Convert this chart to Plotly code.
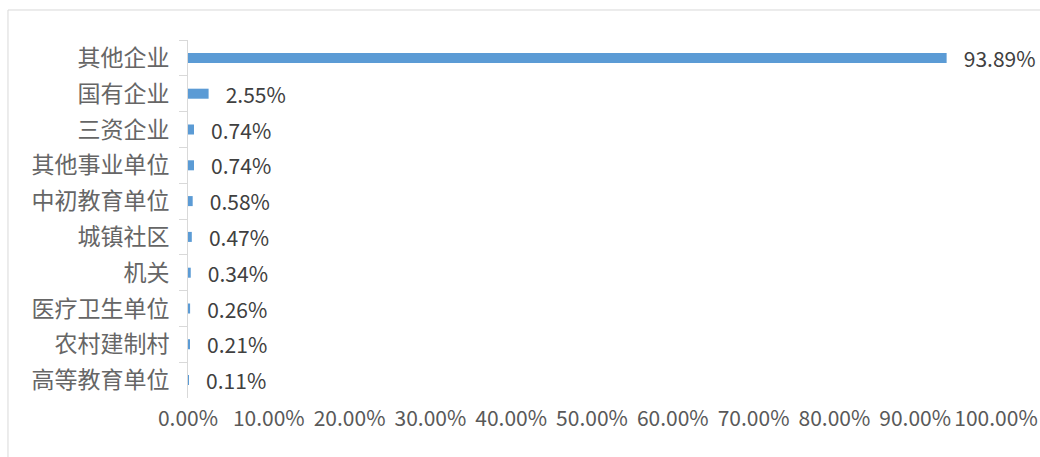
import plotly.graph_objects as go

categories = ["其他企业", "国有企业", "三资企业", "其他事业单位", "中初教育单位",
              "城镇社区", "机关", "医疗卫生单位", "农村建制村", "高等教育单位"]
values = [93.89, 2.55, 0.74, 0.74, 0.58, 0.47, 0.34, 0.26, 0.21, 0.11]
x_ticks = [0, 10, 20, 30, 40, 50, 60, 70, 80, 90, 100]
x_tick_labels = [f"{v:.2f}%" for v in x_ticks]
value_labels = [f"   {v:.2f}%" for v in values]

font_family = "Noto Sans CJK SC, Open Sans, sans-serif"

fig = go.Figure()
fig.add_trace(go.Bar(
    y=categories, x=values, orientation="h",
    marker=dict(color="#5B9BD5", line=dict(width=0)),
    width=0.28,
    text=value_labels, textposition="outside", cliponaxis=False,
    constraintext="none",
    textfont=dict(size=21, color="#404040", family=font_family),
    hoverinfo="skip",
))

fig.update_layout(
    width=1040, height=457,
    margin=dict(l=188, r=44, t=40, b=59),
    paper_bgcolor="white", plot_bgcolor="white",
    showlegend=False,
    font=dict(family=font_family),
    xaxis=dict(range=[0, 100], tickvals=x_ticks, ticktext=x_tick_labels,
               showgrid=False, zeroline=False, showline=False, ticks="",
               automargin=False,
               tickfont=dict(size=21, color="#595959"), ticklabelstandoff=6),
    yaxis=dict(autorange="reversed", type="category", showgrid=False,
               showline=True, linecolor="#d9d9d9", linewidth=1,
               ticks="outside", ticklen=8, tickcolor="#d9d9d9", tickson="boundaries",
               automargin=False,
               tickfont=dict(size=23, color="#666666"), ticklabelstandoff=13),
    shapes=[dict(type="rect", xref="paper", yref="paper",
                 x0=-0.2228, x1=1.2, y0=-0.3, y1=1.0838,
                 line=dict(color="#d9d9d9", width=1), fillcolor="rgba(0,0,0,0)",
                 layer="below")],
)

fig.write_html("out.html", config={"displayModeBar": False},
               post_script="document.body.style.margin='0px';")
